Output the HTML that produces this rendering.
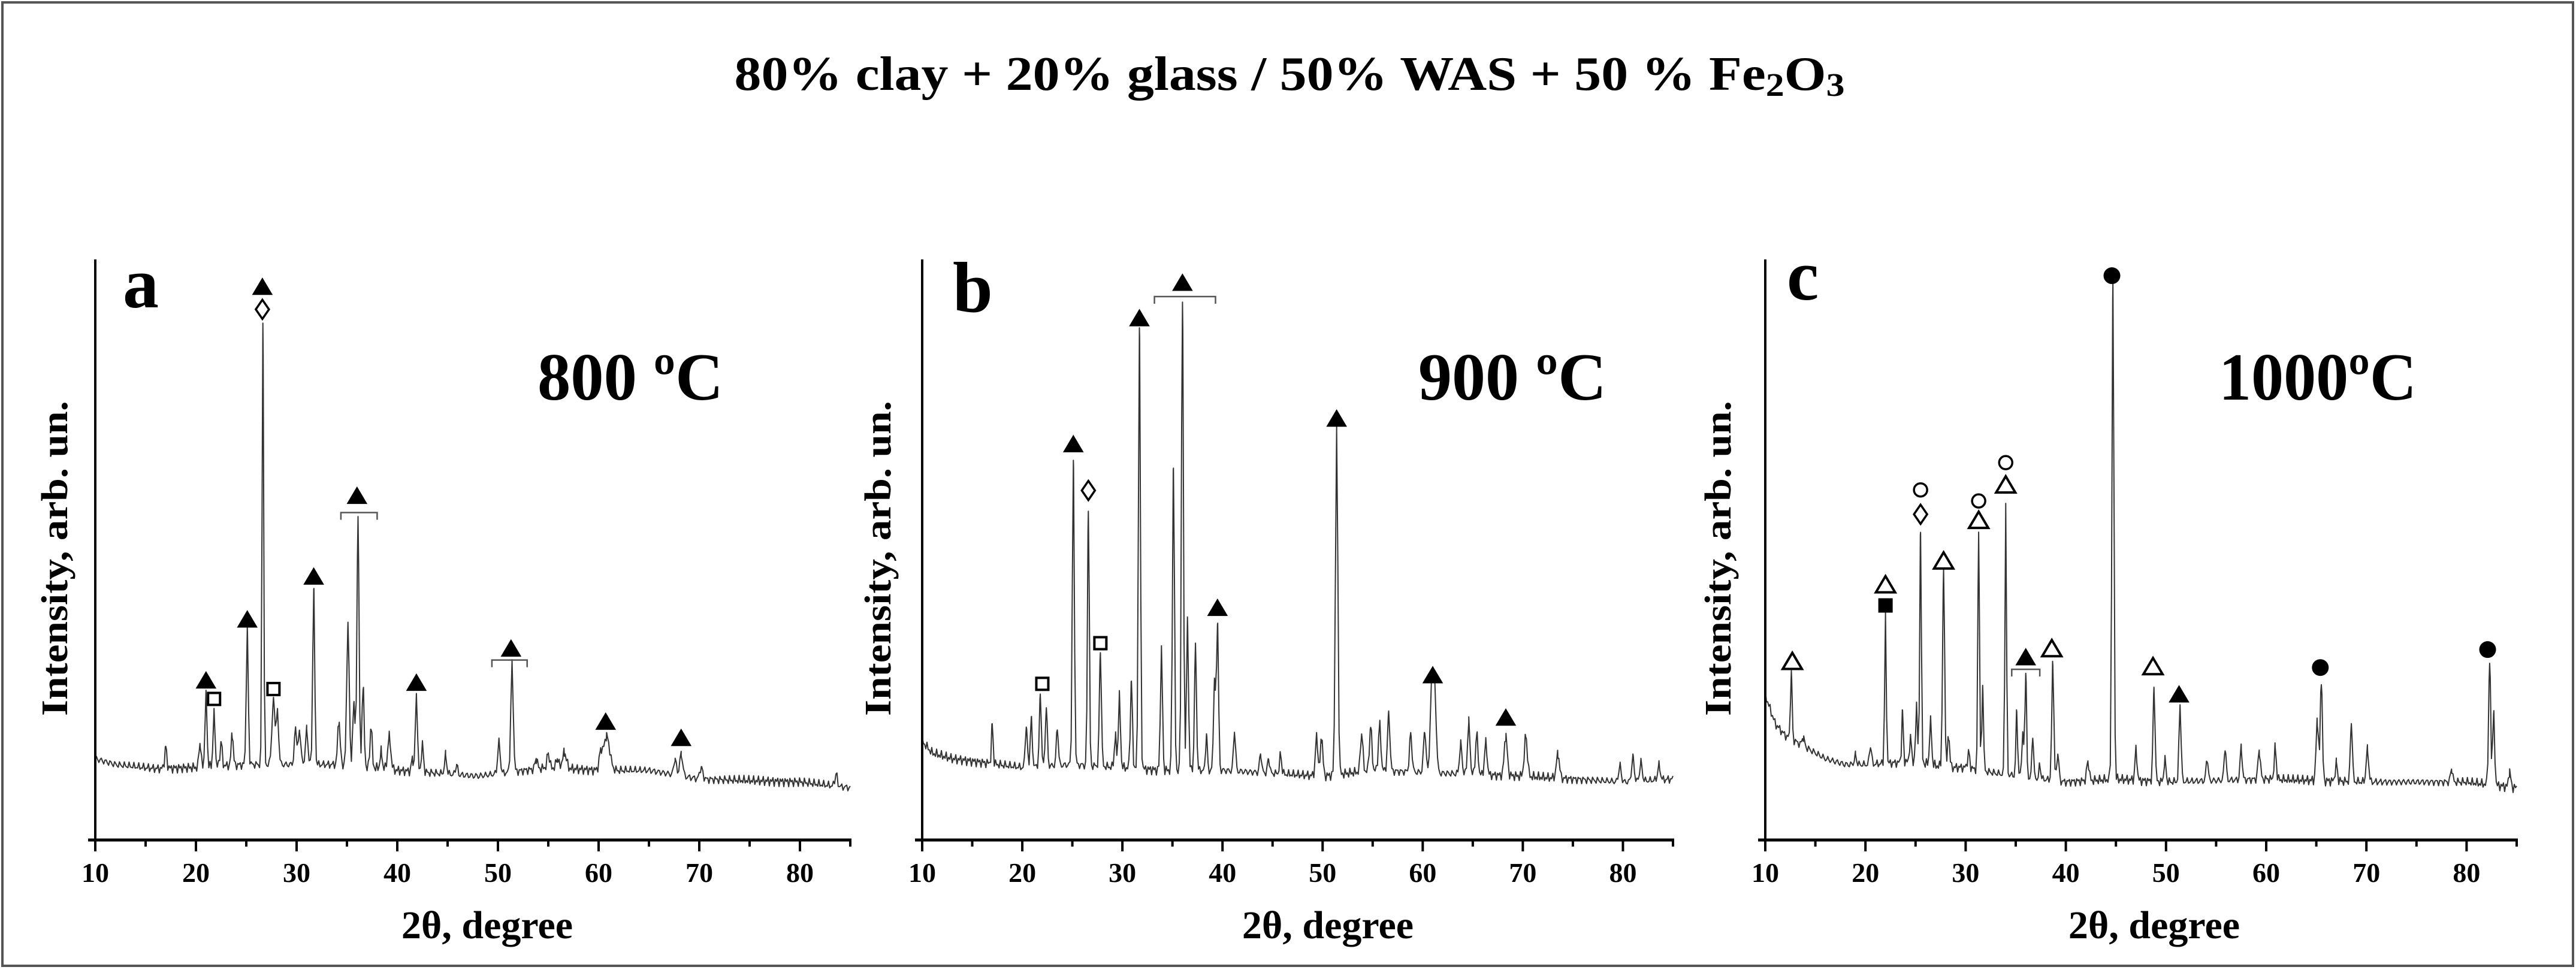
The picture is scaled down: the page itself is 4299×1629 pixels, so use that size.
<!DOCTYPE html>
<html><head><meta charset="utf-8"><style>
html,body{margin:0;padding:0;background:#fff}
svg{display:block}
text{font-family:"Liberation Serif",serif;font-weight:bold;fill:#000}
</style></head><body>
<svg id="fig" width="4299" height="1629" viewBox="0 0 4299 1629" xmlns="http://www.w3.org/2000/svg">
<rect x="4" y="4" width="4290" height="1608" fill="#fff" stroke="#555" stroke-width="4"/>
<text x="2152" y="150" font-size="80" text-anchor="middle" textLength="1853" lengthAdjust="spacingAndGlyphs">80% clay + 20% glass / 50% WAS + 50 % Fe<tspan font-size="55" dy="10">2</tspan><tspan dy="-10">O</tspan><tspan font-size="55" dy="10">3</tspan></text>
<g id="panels"></g>
</svg>
<script>
// ---- data: baselines [deg, intensity] ----
const baseA = [[10,14],[12,13],[16,12.3],[20,12.5],[25,13],[35,13],[40,12],[48,11],[55,12.5],[60,12],[65,12],[70,10.5],[80,10],[85,9]];
const baseB = [[10,17],[11,15],[13,14],[20,12.5],[25,13],[30,12.5],[34,12],[40,12],[45,11.5],[50,11],[55,12],[62,11.5],[70,11],[80,10],[85,10.5]];
const baseC = [[10,25],[11,20],[12,18],[14,16],[16,14],[18,13],[20,13],[25,13.5],[28,12.5],[30,12.5],[33,11.5],[40,10],[45,10.5],[50,10],[60,10.5],[70,10],[80,10],[85,9]];
// ---- data: peaks [deg, top intensity, width] ----
const peaksA = [[17.0,16.1,0.1],[20.4,16.6,0.1],[21.0,24.9,0.1],[21.8,21.8,0.1],[22.5,17,0.1],[23.6,18.3,0.1],[25.1,36.2,0.1],[26.65,89.2,0.08],[27.7,24,0.15],[28.1,21.8,0.12],[29.9,19.2,0.12],[30.3,18.8,0.12],[31.0,19.2,0.12],[31.7,43.3,0.1],[34.2,20.5,0.12],[35.1,37.1,0.12],[35.7,23.6,0.12],[36.1,55.5,0.1],[36.6,26.6,0.1],[37.4,19.6,0.1],[38.4,15.3,0.1],[39.2,17.9,0.15],[41.5,14,0.1],[41.9,24.9,0.1],[42.5,16.6,0.1],[44.8,14.8,0.1],[45.9,13,0.1],[50.1,17,0.12],[51.4,30.6,0.12],[53.8,13.9,0.12],[55.0,15,0.12],[55.9,14,0.12],[56.6,15,0.2],[60.2,14.8,0.15],[60.8,17.9,0.3],[67.6,14,0.12],[68.2,14.8,0.15],[70.2,12.5,0.15],[83.6,11.4,0.12]];
const peaksB = [[17.0,20.1,0.08],[20.4,19.6,0.1],[20.9,21,0.1],[21.8,24.9,0.1],[22.4,22.7,0.1],[23.5,19.2,0.1],[25.1,65.1,0.1],[26.6,57.3,0.09],[27.8,32.3,0.1],[29.3,17.9,0.1],[29.7,24.9,0.1],[30.9,27.5,0.1],[31.7,88,0.1],[33.9,32.8,0.1],[35.1,64.7,0.1],[36.0,93.1,0.1],[36.5,37.6,0.1],[37.3,33.2,0.1],[38.4,18.3,0.08],[39.2,27.5,0.1],[39.5,37.6,0.1],[41.2,18.8,0.1],[43.8,14.8,0.1],[44.6,14,0.1],[45.8,14.8,0.1],[49.4,17.9,0.12],[49.9,17.6,0.12],[51.4,70.8,0.12],[53.9,18.3,0.12],[54.8,19.6,0.12],[55.7,20.1,0.12],[56.6,21.8,0.12],[58.8,18.3,0.12],[60.2,18.8,0.12],[60.9,26.2,0.15],[61.2,25.3,0.15],[63.8,16.6,0.12],[64.6,20.5,0.12],[65.4,18.3,0.12],[66.3,17,0.12],[68.3,17.9,0.15],[70.3,17.9,0.15],[73.5,14.8,0.15],[79.7,13,0.12],[81.0,14.4,0.12],[81.8,13.5,0.12],[83.6,13,0.12]];
const peaksC = [[12.6,28.9,0.08],[13.8,17.6,0.12],[19.0,14.8,0.1],[20.5,16.1,0.1],[22.0,38.9,0.08],[23.7,22.3,0.08],[24.5,17.6,0.1],[25.1,23.6,0.08],[25.5,53.7,0.08],[26.5,20.5,0.1],[27.8,45.9,0.1],[28.3,17.9,0.1],[30.3,15.3,0.1],[31.3,52.9,0.08],[31.7,26.6,0.08],[34.0,58.1,0.08],[35.1,22.3,0.08],[35.7,18.3,0.1],[36.0,28.9,0.08],[36.7,17.9,0.08],[37.4,13,0.08],[38.7,30.6,0.1],[39.2,14.8,0.1],[42.2,13.5,0.12],[44.7,95.3,0.1],[47.0,15.7,0.1],[48.8,26.1,0.1],[49.9,13.9,0.1],[51.4,23.5,0.1],[54.1,13.9,0.1],[55.9,15.7,0.1],[57.5,16.1,0.1],[59.3,15.3,0.12],[60.9,16.1,0.1],[65.1,20.5,0.12],[65.5,27.6,0.1],[67.0,13.5,0.1],[68.5,20.1,0.1],[70.1,15.7,0.12],[78.5,12.2,0.1],[82.3,30.6,0.1],[82.7,21.8,0.1],[84.3,11.8,0.1]];
// ---- data: phase markers [type, deg, intensity] ----
const marksA = [["tri",21.0,27.5],["sq",21.8,24.3],["tri",25.1,38],["dia",26.6,91.4],["tri",26.6,95.3],["sq",27.7,26],["tri",31.7,45.4],["tri",36.0,59.3],["tri",41.9,27.1],["tri",51.3,33],["tri",60.7,20.4],["tri",68.2,17.6]];
const marksB = [["sq",22.0,26.9],["tri",25.1,68.2],["dia",26.6,60.2],["sq",27.8,33.9],["tri",31.7,89.9],["tri",36.0,96],["tri",39.5,40],["tri",51.4,72.6],["tri",61.0,28.4],["tri",68.3,21.1]];
const marksC = [["otri",12.7,30.8],["otri",22.0,44],["fsq",22.0,40.4],["circ",25.5,60.3],["dia",25.5,56.1],["otri",27.8,48.1],["circ",31.3,58.4],["otri",31.3,55.1],["circ",34.0,65],["otri",34.0,61.2],["tri",36.0,31.5],["otri",38.6,33],["dot",44.6,97.2],["otri",48.7,29.9],["tri",51.3,25.1],["dot",65.4,29.7],["dot",82.1,32.8]];
// ---- data: brackets [from deg, to deg, intensity] ----
const bracketsA = [[34.4,38.0,56.4],[49.4,52.9,31]];
const bracketsB = [[33.2,39.3,93.6]];
const bracketsC = [[34.6,37.4,29.4]];
const xTicks = [10,20,30,40,50,60,70,80];
const xMinor = [15,25,35,45,55,65,75,85];
const panelLetters = ["a","b","c"];
const tempLabels = ["800 ºC","900 ºC","1000ºC"];

const NS="http://www.w3.org/2000/svg";
const root=document.getElementById('panels');
function mk(tag,attrs,parent){const e=document.createElementNS(NS,tag);for(const k in attrs)e.setAttribute(k,attrs[k]);(parent||root).appendChild(e);return e;}

const geo=[{x0:159,x1:1419,tx:[897,1207],ylab:92,lx:205,ly:513,xlab:813},{x0:1539,x1:2792,tx:[2367,2681],ylab:1466,lx:1590,ly:520,xlab:2216},{x0:2946,x1:4200,tx:[3703,4033],ylab:2868,lx:2982,ly:500,xlab:3595}];
const Y0=1402,YT=433;
const bases=[baseA,baseB,baseC],peaks=[peaksA,peaksB,peaksC],marks=[marksA,marksB,marksC],brackets=[bracketsA,bracketsB,bracketsC];

function interp(b,x){for(let i=0;i<b.length-1;i++){if(x<=b[i+1][0]){const t=(x-b[i][0])/(b[i+1][0]-b[i][0]);return b[i][1]+t*(b[i+1][1]-b[i][1]);}}return b[b.length-1][1];}

geo.forEach((g,p)=>{
  const sx=d=>g.x0+(d-10)/75*(g.x1-g.x0);
  const sy=v=>Y0-v/100*(Y0-YT);
  const G=mk('g',{});
  
  
  let d='';
  const xs=[];
  for(let x=10;x<=85.0001;x+=0.12)xs.push(x);
  peaks[p].forEach(pk=>xs.push(pk[0]));
  xs.sort((a,b)=>a-b);
  xs.forEach((x,i)=>{
    let v=interp(bases[p],x)+0.9*Math.sin(i*2.39+p)*Math.cos(i*0.77);
    peaks[p].forEach(pk=>{const h=pk[1]-interp(bases[p],pk[0]);const z=(x-pk[0])/pk[2];v+=h*Math.exp(-0.5*z*z);});
    d+=(d?'L':'M')+sx(x).toFixed(1)+','+sy(v).toFixed(1);
  });
  const tr=mk('path',{d:d,fill:'none',stroke:'#333','stroke-width':2,'stroke-linejoin':'round'},G);
  
  
  const ya=mk('line',{x1:g.x0,y1:YT,x2:g.x0,y2:Y0,stroke:'#000','stroke-width':4},G);
  
  
  const xa=mk('line',{x1:g.x0-12,y1:Y0,x2:g.x1+2,y2:Y0,stroke:'#000','stroke-width':5},G);
  
  
  xTicks.forEach(t=>{
    const tk=mk('line',{x1:sx(t),y1:Y0,x2:sx(t),y2:Y0+19,stroke:'#000','stroke-width':4},G);
    
    
    const tl=mk('text',{x:sx(t),y:1472,'font-size':46,'text-anchor':'middle'},G);
    tl.textContent=t;
    
    
  });
  xMinor.forEach(t=>{
    const tk=mk('line',{x1:sx(t),y1:Y0,x2:sx(t),y2:Y0+11,stroke:'#000','stroke-width':4},G);
    
    
  });
  const xl=mk('text',{x:g.xlab,y:1566,'font-size':66,'text-anchor':'middle'},G);
  xl.textContent='2θ, degree';
  
  
  const yl=mk('text',{x:0,y:0,'font-size':62,'text-anchor':'middle',textLength:526,lengthAdjust:'spacingAndGlyphs',transform:'translate('+(g.ylab+20)+',932) rotate(-90)'},G);
  yl.textContent='Intensity, arb. un.';
  
  
  const pl=mk('text',{x:g.lx,y:g.ly,'font-size':120},G);
  pl.textContent=panelLetters[p];
  
  
  const tl=mk('text',{x:g.tx[0],y:667,'font-size':112,textLength:g.tx[1]-g.tx[0],lengthAdjust:'spacingAndGlyphs'},G);
  tl.textContent=tempLabels[p];
  
  
  brackets[p].forEach(b=>{
    const y=sy(b[2]);
    const br=mk('path',{d:'M'+sx(b[0])+','+(y+12)+'V'+y+'H'+sx(b[1])+'V'+(y+12),fill:'none',stroke:'#555','stroke-width':2.5},G);
    
    
  });
  marks[p].forEach(m=>{
    const cx=sx(m[1]),cy=sy(m[2]);
    let el;
    if(m[0]==='tri'||m[0]==='otri'){
      const o=m[0]==='otri';
      el=mk('path',{d:'M'+(cx-16)+','+(cy+13)+'L'+cx+','+(cy-14)+'L'+(cx+16)+','+(cy+13)+'Z',fill:o?'#fff':'#000',stroke:'#000','stroke-width':o?4:1.5},G);
    }else if(m[0]==='sq'||m[0]==='fsq'){
      const f=m[0]==='fsq';
      el=mk('rect',{x:cx-10,y:cy-10,width:20,height:20,fill:f?'#000':'#fff',stroke:'#000','stroke-width':4},G);
    }else if(m[0]==='dia'){
      el=mk('path',{d:'M'+cx+','+(cy-16)+'L'+(cx+11)+','+cy+'L'+cx+','+(cy+16)+'L'+(cx-11)+','+cy+'Z',fill:'#fff',stroke:'#000','stroke-width':3.5},G);
    }else if(m[0]==='circ'){
      el=mk('circle',{cx:cx,cy:cy,r:11,fill:'#fff',stroke:'#000','stroke-width':3.5},G);
    }else{
      el=mk('circle',{cx:cx,cy:cy,r:14,fill:'#000'},G);
    }
    
    
  });
});
</script>
</body></html>
